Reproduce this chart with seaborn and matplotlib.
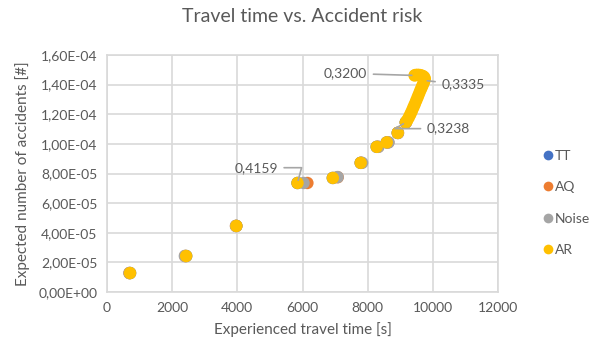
import numpy as np
import pandas as pd
import matplotlib
matplotlib.use("Agg")
import matplotlib.pyplot as plt
from matplotlib.ticker import FuncFormatter, MultipleLocator
from matplotlib.lines import Line2D
import seaborn as sns

# Experienced travel time [s] and expected number of accidents for the AR optimisation
ar_time = [708, 2430, 3970, 5846, 6930, 7785, 8277, 8585, 8923,
           9170, 9215, 9265, 9310, 9355, 9400, 9445, 9490, 9535, 9575,
           9615, 9655, 9690, 9720, 9745, 9752, 9735, 9700, 9650, 9590,
           9530, 9470, 9440]
ar_risk = [1.28e-5, 2.43e-5, 4.46e-5, 7.36e-5, 7.70e-5, 8.72e-5, 9.80e-5, 1.010e-4, 1.074e-4,
           1.145e-4, 1.160e-4, 1.180e-4, 1.200e-4, 1.222e-4, 1.245e-4, 1.268e-4, 1.292e-4, 1.316e-4, 1.338e-4,
           1.360e-4, 1.380e-4, 1.398e-4, 1.414e-4, 1.428e-4, 1.440e-4, 1.450e-4, 1.457e-4, 1.462e-4, 1.465e-4,
           1.466e-4, 1.465e-4, 1.462e-4]

# The other optimisation targets (mostly coincide with AR)
tt_time = [708, 2430, 3970, 5846, 6930, 7785, 8277, 8585, 8923, 9170]
tt_risk = [1.28e-5, 2.43e-5, 4.46e-5, 7.36e-5, 7.70e-5, 8.72e-5, 9.80e-5, 1.010e-4, 1.074e-4, 1.145e-4]
aq_time = [690, 2400, 3960, 6150, 7080, 7800, 8320, 8630, 8930, 9175]
aq_risk = [1.28e-5, 2.43e-5, 4.46e-5, 7.36e-5, 7.75e-5, 8.72e-5, 9.80e-5, 1.010e-4, 1.074e-4, 1.145e-4]
noise_time = [690, 2390, 3960, 6030, 7077, 7830, 8330, 8640, 8930, 9175]
noise_risk = [1.28e-5, 2.43e-5, 4.46e-5, 7.36e-5, 7.76e-5, 8.72e-5, 9.80e-5, 1.010e-4, 1.074e-4, 1.145e-4]

series_names = ["TT", "AQ", "Noise", "AR"]
series_colors = ["#4472C4", "#ED7D31", "#A5A5A5", "#FFC000"]

# Data labels attached to selected AR points (index into the AR arrays)
label_text = ["0,4159", "0,3238", "0,3335", "0,3200"]
label_index = [3, 9, 23, 31]

x_ticks = [0, 2000, 4000, 6000, 8000, 10000, 12000]

frames = []
for name, xs, ys in [("TT", tt_time, tt_risk), ("AQ", aq_time, aq_risk),
                     ("Noise", noise_time, noise_risk), ("AR", ar_time, ar_risk)]:
    frames.append(pd.DataFrame({"time": xs, "risk": ys, "series": name}))
df = pd.concat(frames, ignore_index=True)

sns.set_theme(style="white")
plt.rcParams["font.family"] = ["Lato", "DejaVu Sans"]

text_grey = "#595959"
grid_grey = "#D9D9D9"

fig = plt.figure(figsize=(5.92, 3.49), dpi=100)
ax = fig.add_axes([107 / 592, 1 - 292 / 349, 391 / 592, 237 / 349])

sns.scatterplot(data=df, x="time", y="risk", hue="series", hue_order=series_names,
                palette=series_colors, s=80, linewidth=0, ax=ax, legend=False, zorder=3)

ax.set_xlim(0, 12000)
ax.set_ylim(0, 1.6e-4)
ax.set_xticks(x_ticks)
ax.yaxis.set_major_locator(MultipleLocator(2e-5))
ax.yaxis.set_major_formatter(FuncFormatter(lambda v, p: f"{v:.2E}".replace(".", ",")))
ax.xaxis.set_major_formatter(FuncFormatter(lambda v, p: f"{int(round(v))}"))
ax.grid(True, color=grid_grey, linewidth=1.2)
ax.set_axisbelow(True)
for sp in ax.spines.values():
    sp.set_color(grid_grey)
    sp.set_linewidth(1.2)
ax.tick_params(axis="both", length=0, labelsize=10, colors=text_grey, pad=7)

ax.set_xlabel("Experienced travel time [s]", fontsize=11, color=text_grey, labelpad=6)
ax.set_ylabel("Expected number of accidents [#]", fontsize=11, color=text_grey, labelpad=6)
fig.text(0.51, 1 - 17 / 349, "Travel time vs. Accident risk", ha="center", va="center",
         fontsize=14, color=text_grey)

# Data labels with leader lines
label_offsets = [(-14, 11), (15, -4.5), (12, -3), (-34, 1.5)]
label_align = ["right", "left", "left", "right"]
label_conn = ["angle,angleA=0,angleB=75,rad=0", "angle,angleA=180,angleB=210,rad=0",
              "arc3,rad=0", "arc3,rad=0"]
for txt, idx, off, ha, conn in zip(label_text, label_index, label_offsets, label_align, label_conn):
    ax.annotate(txt, xy=(ar_time[idx], ar_risk[idx]), xytext=off, textcoords="offset points",
                ha=ha, va="center", fontsize=10, color=text_grey, zorder=4,
                arrowprops=dict(arrowstyle="-", color="#A6A6A6", lw=1.2,
                                shrinkA=2, shrinkB=2, connectionstyle=conn))

handles = [Line2D([], [], marker="o", linestyle="", markersize=7, markerfacecolor=c,
                  markeredgewidth=0) for c in series_colors]
fig.legend(handles, series_names, loc="center left", bbox_to_anchor=(535 / 592, 1 - 203 / 349),
           frameon=False, fontsize=10, labelcolor=text_grey, handletextpad=0.05,
           handlelength=1.0, labelspacing=1.4, borderaxespad=0)

fig.savefig("out.png", dpi=100)
